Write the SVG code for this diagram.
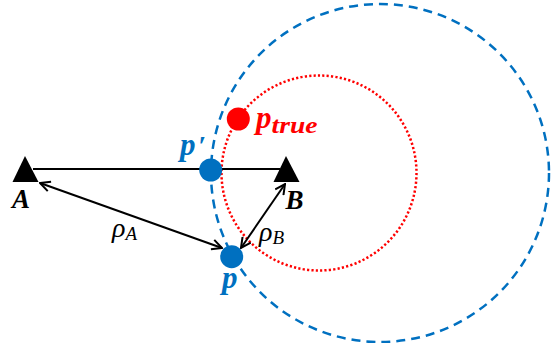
<svg xmlns="http://www.w3.org/2000/svg" width="551" height="343" viewBox="0 0 551 343">
  <style>
    .lbl { font-family: "Liberation Serif", "Times New Roman", serif; font-style: italic; }
    .bold { font-weight: bold; }
    .blue { fill: #0070C0; }
    .red { fill: #FF0000; }
    .blk { fill: #000000; }
    .conn { stroke: #000; stroke-width: 2; fill: none; }
  </style>
  <defs>
    <marker id="arr" viewBox="0 0 12 12" refX="11" refY="6" markerWidth="12" markerHeight="12" markerUnits="userSpaceOnUse" orient="auto-start-reverse">
      <path d="M1,1 L11,6 L1,11" fill="none" stroke="#000" stroke-width="2"/>
    </marker>
  </defs>
  <rect width="551" height="343" fill="#ffffff"/>

  <g id="circle-true">
    <circle cx="319" cy="173" r="97.5" fill="none" stroke="#FF0000" stroke-width="2.5" stroke-dasharray="2.2 2.2"/>
  </g>
  <g id="circle-est">
    <circle cx="380" cy="173" r="169" fill="none" stroke="#0070C0" stroke-width="2.5" stroke-dasharray="9 6"/>
  </g>

  <g id="connectors">
    <line class="conn" x1="33" y1="169" x2="280" y2="169"/>
    <line class="conn" x1="40" y1="183" x2="222" y2="248" marker-start="url(#arr)" marker-end="url(#arr)"/>
    <line class="conn" x1="285" y1="184" x2="241" y2="248" marker-start="url(#arr)" marker-end="url(#arr)"/>
  </g>

  <g id="node-A">
    <polygon points="25,156 12.5,182 38.5,182" fill="#000"/>
    <text class="lbl bold blk" x="12" y="208" font-size="27">A</text>
  </g>
  <g id="node-B">
    <polygon points="286,156 273.5,182 299.5,182" fill="#000"/>
    <text class="lbl bold blk" x="285.5" y="209" font-size="27">B</text>
  </g>

  <g id="label-rhoA">
    <text class="lbl blk" x="112" y="237" font-size="28">ρ<tspan font-size="19" dy="3">A</tspan></text>
  </g>
  <g id="label-rhoB">
    <text class="lbl blk" x="259" y="241" font-size="28">ρ<tspan font-size="19" dy="3">B</tspan></text>
  </g>

  <g id="node-pprime">
    <circle cx="210.7" cy="170" r="11.5" fill="#0070C0"/>
    <text class="lbl bold blue" x="180" y="155" font-size="31">p<tspan dx="3" font-style="normal" font-size="28">′</tspan></text>
  </g>
  <g id="node-p">
    <circle cx="231.7" cy="256.7" r="11.5" fill="#0070C0"/>
    <text class="lbl bold blue" x="222" y="288" font-size="31">p</text>
  </g>
  <g id="node-ptrue">
    <circle cx="238.3" cy="119" r="11.5" fill="#FF0000"/>
    <text class="lbl bold red" x="256" y="128" font-size="31">p<tspan font-size="24" dy="5" textLength="46" lengthAdjust="spacingAndGlyphs">true</tspan></text>
  </g>
</svg>
